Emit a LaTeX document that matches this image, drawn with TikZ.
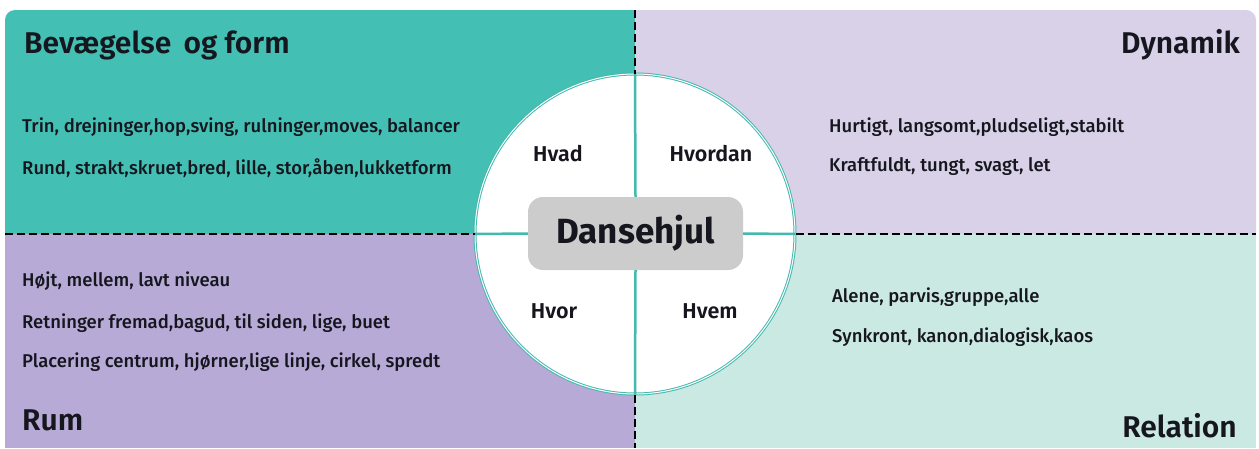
\documentclass[tikz,border=0pt]{standalone}
\usepackage{fontspec}
\setmainfont{Fira Sans}
\newfontfamily\medfont{Fira Sans Medium}
\newfontfamily\semifont{Fira Sans SemiBold}
\usetikzlibrary{positioning}
\definecolor{formteal}{RGB}{68,191,180}
\definecolor{dynlav}{RGB}{216,209,232}
\definecolor{rumpurple}{RGB}{183,170,214}
\definecolor{relmint}{RGB}{203,233,227}
\definecolor{wheelteal}{RGB}{70,185,175}
\definecolor{hubgray}{RGB}{204,204,204}
\definecolor{ink}{RGB}{22,22,30}
\tikzset{
  head/.style={font=\semifont\fontsize{30}{34}\selectfont, text=ink, inner sep=0pt},
  item/.style={font=\medfont\fontsize{18.5}{22}\selectfont, text=ink, anchor=west, inner sep=0pt},
  quad/.style={font=\semifont\fontsize{21.5}{24}\selectfont, text=ink, inner sep=0pt},
  wheel/.style={circle, minimum size=320pt, inner sep=0pt, fill=white,
                draw=wheelteal, line width=1pt, double=white, double distance=1pt},
  hub/.style={rectangle, rounded corners=15pt, fill=hubgray, minimum width=215pt,
              minimum height=73pt, font=\bfseries\fontsize{35}{40}\selectfont, text=ink},
  spoke/.style={draw=wheelteal, line width=2.5pt},
  divider/.style={line width=2.5pt, dash pattern=on 8pt off 4pt},
}

\begin{document}
\begin{tikzpicture}[x=1pt, y=-1pt]
  \useasboundingbox (0,0) rectangle (1259,448);
  % the four fields
  \fill[formteal] (5,234) [rounded corners=10pt] -- (5,10) [sharp corners] -- (635,10) -- (635,234) -- cycle;
  \fill[dynlav] (635,10) [rounded corners=10pt] -- (1256,10) [sharp corners] -- (1256,234) -- (635,234) -- cycle;
  \fill[rumpurple] (5,234) rectangle (635,448);
  \fill[relmint] (635,234) rectangle (1256,448);

  \coordinate (topmid) at (635,10);
  \coordinate (botmid) at (635,448);
  \coordinate (leftmid) at (5,234);
  \coordinate (rightmid) at (1256,234);

  % wheel
  \node[wheel] (wheel) at (635,234) {};
  \node[hub] (hub) at (635.5,233.5) {Dansehjul};
  \draw[spoke] (wheel.north) -- (hub.north);
  \draw[spoke] (wheel.south) -- (hub.south);
  \draw[spoke] (wheel.west) -- (hub.west);
  \draw[spoke] (wheel.east) -- (hub.east);

  \draw[divider] (topmid) -- (wheel.north);
  \draw[divider] (wheel.south) -- (botmid);
  \draw[divider] (leftmid) -- (wheel.west);
  \draw[divider] (wheel.east) -- (rightmid);

  \node[quad] (hvad) at (558,154) {Hvad};
  \node[quad] (hvordan) at (711,154) {Hvordan};
  \node[quad] (hvor) at (554,311) {Hvor};
  \node[quad] (hvem) at (710,311) {Hvem};

  % Bevaegelse og form
  \node[head, anchor=west] (formhead) at (24,45) {Bevægelse\, og form};
  \node[item] (form1) at (22,127) {Trin, drejninger,hop,sving, rulninger,moves, balancer};
  \node[item] (form2) at (22,168) {Rund, strakt,skruet,bred, lille, stor,åben,lukketform};

  % Dynamik
  \node[head, anchor=east] (dynhead) at (1240,45) {Dynamik};
  \node[item] (dyn1) at (829,127) {Hurtigt, langsomt,pludseligt,stabilt};
  \node[item] (dyn2) at (829,167) {Kraftfuldt, tungt, svagt, let};

  % Rum
  \node[item] (rum1) at (22,281) {Højt, mellem, lavt niveau};
  \node[item] (rum2) at (22,323) {Retninger fremad,bagud, til siden, lige, buet};
  \node[item] (rum3) at (22,362) {Placering centrum, hjørner,lige linje, cirkel, spredt};
  \node[head, anchor=west] (rumhead) at (22,420) {Rum};

  % Relation
  \node[item] (rel1) at (832,297) {Alene, parvis,gruppe,alle};
  \node[item] (rel2) at (832,337) {Synkront, kanon,dialogisk,kaos};
  \node[head, anchor=east] (relhead) at (1237,426) {Relation};
\end{tikzpicture}
\end{document}
